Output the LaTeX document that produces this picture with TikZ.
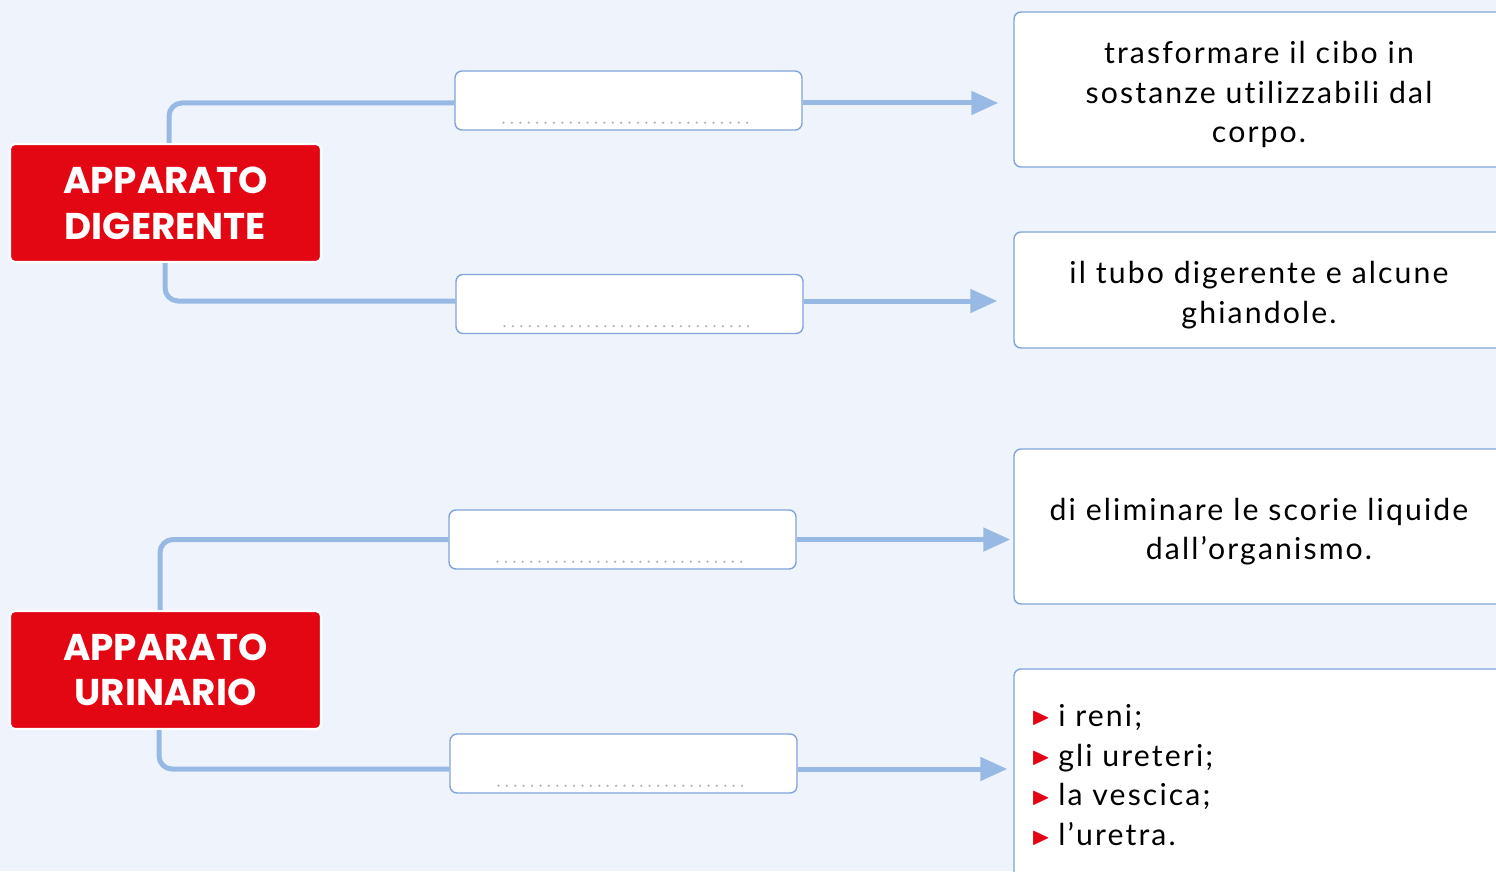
\documentclass[tikz,border=0pt]{standalone}
\usepackage{fontspec}
\usepackage{amssymb}
\setmainfont[LetterSpace=7,Ligatures=NoCommon]{Lato}
\newfontfamily\titlefont{Poppins}
\usetikzlibrary{arrows.meta,positioning}

\definecolor{bgblue}{RGB}{239,244,252}
\definecolor{linkblue}{RGB}{152,185,228}
\definecolor{boxblue}{RGB}{128,164,219}
\definecolor{apred}{RGB}{227,6,19}
\definecolor{dotgray}{RGB}{180,180,180}

\newcommand{\bul}{\textcolor{apred}{\raisebox{0.4pt}{\scalebox{0.82}{$\blacktriangleright$}}}\hspace{0.08cm}}
\newcommand{\topgap}{\rule{0pt}{9.2pt}}

\tikzset{
	apparato/.style={fill=apred, draw=white, line width=0.6pt, rounded corners=0.05cm, minimum width=3.11cm, minimum height=1.18cm, text=white, align=center, font=\titlefont\bfseries\fontsize{10.6}{13}\selectfont},
	blank/.style={fill=white, draw=boxblue, line width=0.4pt, rounded corners=0.07cm, minimum width=3.47cm, minimum height=0.59cm},
	textbox/.style={fill=white, draw=boxblue, line width=0.4pt, rounded corners=0.07cm, minimum width=4.9cm, align=center, font=\fontsize{8.6}{11.3}\selectfont},
	link/.style={draw=linkblue, line width=0.05cm, rounded corners=0.13cm},
	arrow/.style={draw=linkblue, line width=0.05cm, -{Triangle[length=0.27cm,width=0.23cm]}},
	dots/.style={draw=dotgray, line width=0.025cm, line cap=round, dash pattern=on 0pt off 0.084cm},
}

\begin{document}
\begin{tikzpicture}
	\useasboundingbox (0,0) rectangle (14.96,8.71);
	\clip (0,0) rectangle (14.96,8.71);
	\fill[bgblue] (0,0) rectangle (14.96,8.71);
	
	% systems
	\node[apparato] (dig) at (1.655,6.68) {APPARATO\\DIGERENTE};
	\node[apparato] (uri) at (1.655,2.01) {APPARATO\\URINARIO};
	
	% boxes to fill in
	\node[blank] (b1) at (6.285,7.705) {};
	\node[blank] (b2) at (6.295,5.67) {};
	\node[blank] (b3) at (6.225,3.315) {};
	\node[blank] (b4) at (6.235,1.075) {};
	
	\draw[dots] ([xshift=-1.25cm,yshift=0.08cm]b1.south) -- ([xshift=1.25cm,yshift=0.08cm]b1.south);
	\draw[dots] ([xshift=-1.25cm,yshift=0.08cm]b2.south) -- ([xshift=1.25cm,yshift=0.08cm]b2.south);
	\draw[dots] ([xshift=-1.25cm,yshift=0.08cm]b3.south) -- ([xshift=1.25cm,yshift=0.08cm]b3.south);
	\draw[dots] ([xshift=-1.25cm,yshift=0.08cm]b4.south) -- ([xshift=1.25cm,yshift=0.08cm]b4.south);
	
	% answers
	\node[textbox, minimum height=1.55cm] (t1) at (12.59,7.815) {\topgap trasformare il cibo in\\sostanze utilizzabili dal\\corpo.};
	\node[textbox, minimum height=1.16cm] (t2) at (12.59,5.81) {\topgap il tubo digerente e alcune\\ghiandole.};
	\node[textbox, minimum height=1.55cm] (t3) at (12.59,3.445) {\topgap di eliminare le scorie liquide\\dall'organismo.};
	\node[textbox, minimum height=2.11cm] (t4) at (12.59,0.9655) {};
	\node[right=0.17cm of t4.west, yshift=-0.005cm, inner sep=0pt, align=left, font=\fontsize{8.6}{11.3}\selectfont] (list) {\bul i reni;\\\bul gli ureteri;\\\bul la vescica;\\\bul l'uretra.};
	
	% connectors
	\coordinate (l1) at ([yshift=-0.025cm]b1.west);
	\coordinate (l2) at ([yshift=0.03cm]b2.west);
	\coordinate (l3) at (b3.west);
	\coordinate (l4) at ([yshift=-0.055cm]b4.west);
	\coordinate (r1) at ([yshift=-0.025cm]b1.east);
	\coordinate (r2) at ([yshift=0.03cm]b2.east);
	\coordinate (r3) at (b3.east);
	\coordinate (r4) at ([yshift=-0.055cm]b4.east);
	
	\draw[link] ([xshift=0.035cm]dig.north) |- (l1);
	\draw[link] ([xshift=-0.005cm]dig.south) |- (l2);
	\draw[link] ([xshift=-0.055cm]uri.north) |- (l3);
	\draw[link] ([xshift=-0.065cm]uri.south) |- (l4);
	
	\draw[arrow, shorten >=0.15cm] (r1) -- (r1 -| t1.west);
	\draw[arrow, shorten >=0.16cm] (r2) -- (r2 -| t2.west);
	\draw[arrow, shorten >=0.03cm] (r3) -- (r3 -| t3.west);
	\draw[arrow, shorten >=0.06cm] (r4) -- (r4 -| t4.west);
\end{tikzpicture}
\end{document}
